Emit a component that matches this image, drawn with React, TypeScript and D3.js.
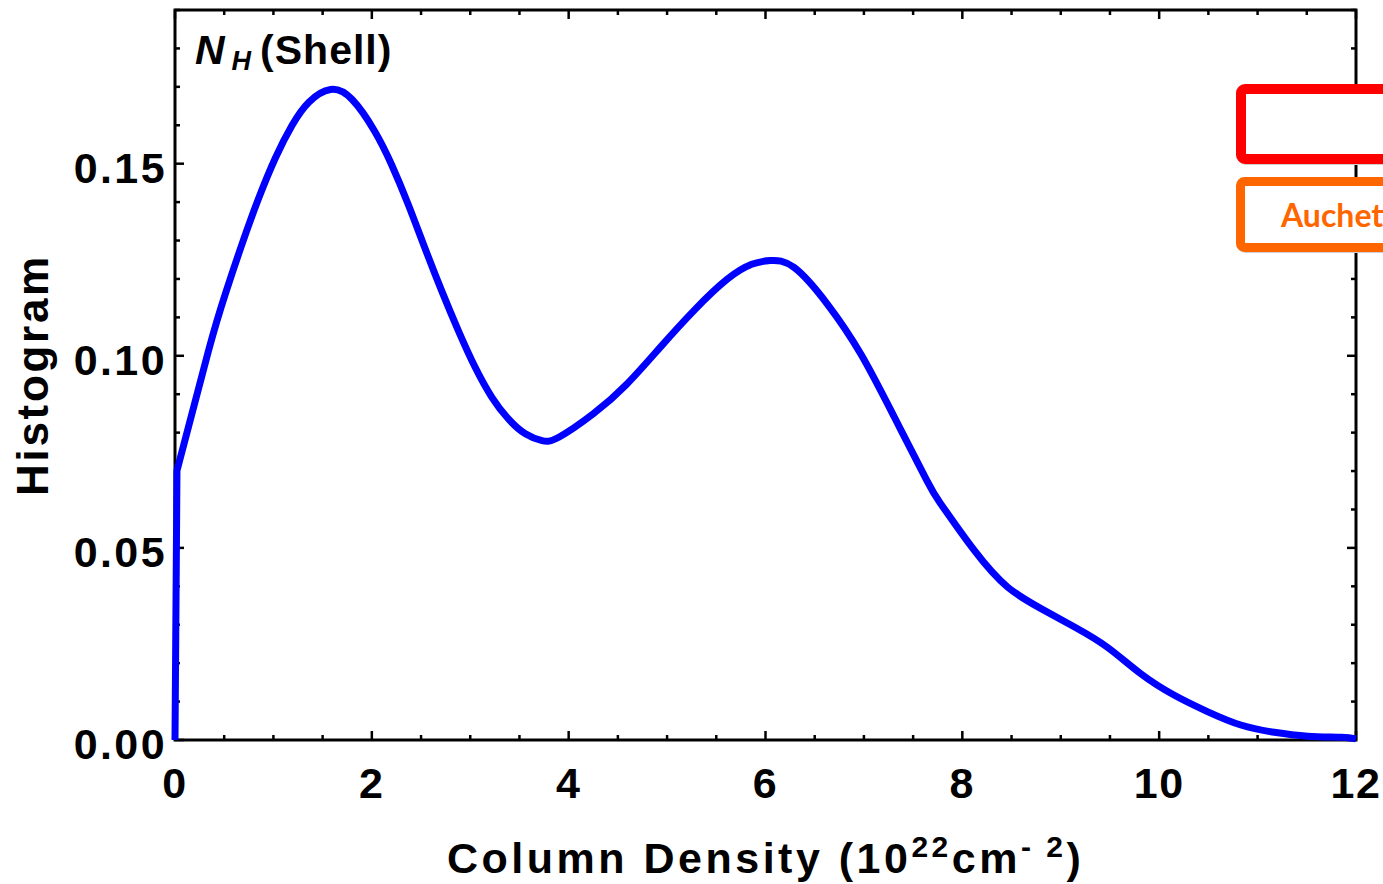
import React, { useEffect, useRef } from "react";
import * as d3 from "d3";

// Column density (10^22 cm^-2) and histogram values
const densityX = [0, 0.02, 0.34, 0.51, 0.68, 0.85, 1.02, 1.19, 1.36, 1.58, 1.8, 2.03, 2.2, 2.37, 2.54, 2.71, 2.88, 3.05, 3.22, 3.39, 3.56, 3.73, 3.9, 4.25, 4.59, 4.93, 5.27, 5.61, 5.86, 6.05, 6.29, 6.63, 6.97, 7.31, 7.64, 7.78, 8.12, 8.46, 8.8, 9.14, 9.47, 9.81, 10.15, 10.49, 10.83, 11.17, 11.51, 11.85, 12.0];
const histogramY = [0, 0.0701, 0.1013, 0.116, 0.129, 0.141, 0.1515, 0.16, 0.166, 0.1693, 0.1667, 0.1584, 0.1498, 0.1394, 0.128, 0.1169, 0.1065, 0.097, 0.0892, 0.0835, 0.0797, 0.0779, 0.0788, 0.0849, 0.0926, 0.1022, 0.1117, 0.1199, 0.1238, 0.1248, 0.123, 0.1134, 0.1004, 0.084, 0.0675, 0.0615, 0.0494, 0.0398, 0.0342, 0.0294, 0.0242, 0.0173, 0.0117, 0.0074, 0.0039, 0.002, 0.001, 0.0007, 0.0003];

const xTickValues = [0, 2, 4, 6, 8, 10, 12];
const yTickValues = [0, 0.05, 0.1, 0.15];
const xDomain = [0, 12];
const yDomain = [0, 0.19];

const panelLabel = "Shell";
const xLabel = "Column Density (10";
const yLabel = "Histogram";
const legendLabels = ["Lee et al. (2015)", "Auchettl et al. (2014)"];
const legendColors = ["#ff0000", "#ff6600"];

const W = 1383;
const H = 884;
const L = 175, R = 1356, T = 10, B = 740;
const FONT = "'Liberation Sans', Arial, sans-serif";

export default function App() {
  const ref = useRef<SVGSVGElement>(null);

  useEffect(() => {
    const svg = d3.select(ref.current);
    svg.selectAll("*").remove();

    const x = d3.scaleLinear().domain(xDomain).range([L, R]);
    const y = d3.scaleLinear().domain(yDomain).range([B, T]);

    const minorX = d3.range(0, 12.001, 0.5);
    const minorY = d3.range(0, 0.1901, 0.01);

    const g = svg.append("g");

    const tick = (x1: number, y1: number, x2: number, y2: number, w: number) =>
      g.append("line").attr("x1", x1).attr("y1", y1).attr("x2", x2).attr("y2", y2)
        .attr("stroke", "#000").attr("stroke-width", w);

    minorX.forEach((v) => {
      const major = Math.abs(v % 2) < 1e-6;
      const len = major ? 9 : 5;
      tick(x(v), B, x(v), B - len, 2.5);
      tick(x(v), T, x(v), T + len, 2.5);
    });
    minorY.forEach((v) => {
      const k = Math.round(v * 100);
      const major = k % 5 === 0;
      const len = major ? 9 : 5;
      tick(L, y(v), L + len, y(v), 2.5);
      tick(R, y(v), R - len, y(v), 2.5);
    });

    // frame
    g.append("rect").attr("x", L).attr("y", T).attr("width", R - L).attr("height", B - T)
      .attr("fill", "none").attr("stroke", "#000").attr("stroke-width", 3);

    // tick labels
    g.selectAll("text.xt").data(xTickValues).enter().append("text")
      .attr("x", (d) => x(d)).attr("y", 798)
      .attr("text-anchor", "middle")
      .attr("font-family", FONT).attr("font-weight", "bold").attr("font-size", 43)
      .style("letter-spacing", "1.5px")
      .text((d) => String(d));

    g.selectAll("text.yt").data(yTickValues).enter().append("text")
      .attr("x", 167).attr("y", (d) => y(d) + 19)
      .attr("text-anchor", "end")
      .attr("font-family", FONT).attr("font-weight", "bold").attr("font-size", 43)
      .style("letter-spacing", "2.4px")
      .text((d) => d3.format(".2f")(d));

    // curve: vertical jump at the origin, then a smooth density curve
    const smooth = d3.line<number>()
      .x((_, i) => x(densityX[i + 1]))
      .y((d) => y(Math.max(0, d)))
      .curve(d3.curveNatural);
    const rest = (smooth(histogramY.slice(1)) as string).replace(/^M/, "L");
    const d = `M${x(densityX[0])},${y(histogramY[0])}` + rest;
    g.append("path").attr("d", d)
      .attr("fill", "none").attr("stroke", "#0000ff").attr("stroke-width", 7)
      .attr("stroke-linejoin", "round");

    // axis labels
    const xl = g.append("text").attr("x", 447).attr("y", 873)
      .attr("font-family", FONT).attr("font-weight", "bold").attr("font-size", 43)
      .style("letter-spacing", "3.5px");
    xl.append("tspan").text(xLabel);
    xl.append("tspan").attr("font-size", 30).attr("dy", -16).text("22");
    xl.append("tspan").attr("dy", 16).text("cm");
    xl.append("tspan").attr("font-size", 30).attr("dy", -16).text("- 2");
    xl.append("tspan").attr("dy", 16).text(")");

    g.append("text")
      .attr("transform", "translate(48,375) rotate(-90)")
      .attr("text-anchor", "middle")
      .attr("font-family", FONT).attr("font-weight", "bold").attr("font-size", 44)
      .style("letter-spacing", "2.7px")
      .text(yLabel);

    // panel label
    const pl = g.append("text").attr("x", 195).attr("y", 64)
      .attr("font-family", FONT).attr("font-weight", "bold").attr("font-size", 41)
      .style("letter-spacing", "1px");
    pl.append("tspan").attr("font-style", "italic").text("N");
    pl.append("tspan").attr("font-style", "italic").attr("font-size", 27).attr("dx", 6).attr("dy", 6).text("H");
    pl.append("tspan").attr("dx", 8).attr("dy", -6).text(`(${panelLabel})`);

    // legend boxes (cut at the right edge, as in the reference)
    const boxes = [
      { y0: 84, y1: 164, sw: 10, tx: 1381, ty: 135 },
      { y0: 177, y1: 252, sw: 9, tx: 1281, ty: 227 },
    ];
    boxes.forEach((b, i) => {
      g.append("rect")
        .attr("x", 1236 + b.sw / 2 + 1).attr("y", b.y0 + b.sw / 2 + 1)
        .attr("width", 300).attr("height", b.y1 - b.y0 - b.sw)
        .attr("rx", 4).attr("fill", "none").attr("stroke", "#cfcfcf").attr("stroke-width", b.sw);
      g.append("rect")
        .attr("x", 1236 + b.sw / 2).attr("y", b.y0 + b.sw / 2)
        .attr("width", 300).attr("height", b.y1 - b.y0 - b.sw)
        .attr("rx", 4).attr("fill", "#fff").attr("stroke", legendColors[i]).attr("stroke-width", b.sw);
      g.append("text").attr("x", b.tx).attr("y", b.ty)
        .attr("font-family", "Lato, 'Open Sans', sans-serif").attr("font-weight", "bold").attr("font-size", 32)
        .attr("fill", legendColors[i])
        .text(legendLabels[i]);
    });
  }, []);

  return (
    <svg ref={ref} width={W} height={H}
      style={{ position: "fixed", left: 0, top: 0, background: "#fff" }} />
  );
}
